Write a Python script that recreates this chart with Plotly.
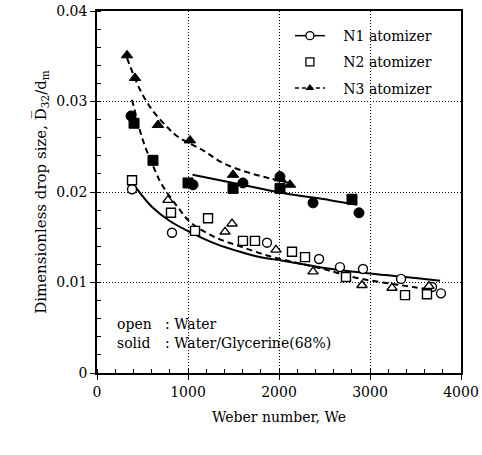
import plotly.graph_objects as go

# ---- data ----
n1_water_we = [385, 824, 1868, 2440, 2670, 2923, 3341, 3681, 3780]
n1_water_d = [0.0203, 0.0155, 0.0144, 0.0126, 0.0117, 0.0115, 0.0104, 0.0095, 0.0088]

n2_water_we = [385, 813, 1077, 1220, 1604, 1736, 2143, 2286, 2736, 3385, 3626]
n2_water_d = [0.0213, 0.0177, 0.0157, 0.0171, 0.0146, 0.0146, 0.0134, 0.0128, 0.0106, 0.0086, 0.0087]

n3_water_we = [780, 1407, 1484, 1967, 2374, 2912, 3242, 3648]
n3_water_d = [0.0191, 0.0156, 0.0165, 0.0136, 0.0112, 0.0097, 0.0094, 0.0096]

n1_gly_we = [374, 1055, 1604, 2011, 2374, 2879]
n1_gly_d = [0.0284, 0.0208, 0.0210, 0.0217, 0.0188, 0.0177]

n2_gly_we = [407, 615, 1000, 1495, 2011, 2802]
n2_gly_d = [0.0276, 0.0235, 0.0210, 0.0204, 0.0204, 0.0192]

n3_gly_we = [330, 418, 670, 1022, 1495, 2011, 2121]
n3_gly_d = [0.0351, 0.0326, 0.0274, 0.0257, 0.0219, 0.0215, 0.0208]

# fitted curves
n1_water_fit_we = [420, 600, 800, 1077, 1300, 1571, 1800, 2044, 2500, 3000, 3500, 3770]
n1_water_fit_d = [0.0206, 0.0184, 0.0168, 0.0153, 0.0143, 0.0134, 0.0128, 0.0124, 0.0116, 0.0110, 0.0105, 0.0102]

n1_gly_fit_we = [1050, 1500, 2040, 2560, 2860]
n1_gly_fit_d = [0.0219, 0.0210, 0.0199, 0.0191, 0.0186]

n3_water_fit_we = [385, 505, 637, 714, 890, 1022, 1297, 1571, 1901, 2484, 2857, 3473, 3604]
n3_water_fit_d = [0.0302, 0.0257, 0.0224, 0.0208, 0.0183, 0.0167, 0.0150, 0.0140, 0.0129, 0.0115, 0.0105, 0.0095, 0.0093]

n3_gly_fit_we = [330, 473, 604, 769, 890, 1165, 1385, 1648, 1901, 2121]
n3_gly_fit_d = [0.0348, 0.0313, 0.0291, 0.0272, 0.0261, 0.0246, 0.0232, 0.0222, 0.0215, 0.0210]

legend_names = ["N1 atomizer", "N2 atomizer", "N3 atomizer"]

FONT = "DejaVu Serif"
BLACK = "black"
NB = "\u00a0\u00a0\u00a0"

fig = go.Figure()

# curves
fig.add_trace(go.Scatter(x=n1_water_fit_we, y=n1_water_fit_d, mode="lines", line=dict(color=BLACK, width=2, shape="spline", smoothing=1.0), showlegend=False))
fig.add_trace(go.Scatter(x=n1_gly_fit_we, y=n1_gly_fit_d, mode="lines", line=dict(color=BLACK, width=2, shape="spline"), showlegend=False))
fig.add_trace(go.Scatter(x=n3_water_fit_we, y=n3_water_fit_d, mode="lines", line=dict(color=BLACK, width=2, dash="6px,4px", shape="spline"), showlegend=False))
fig.add_trace(go.Scatter(x=n3_gly_fit_we, y=n3_gly_fit_d, mode="lines", line=dict(color=BLACK, width=2, dash="6px,4px", shape="spline"), showlegend=False))

open_m = dict(color="white", size=9, line=dict(color=BLACK, width=1.4))
solid_m = dict(color=BLACK, size=10, line=dict(color=BLACK, width=1))

fig.add_trace(go.Scatter(x=n1_water_we, y=n1_water_d, mode="markers", marker=dict(symbol="circle", **open_m), showlegend=False))
fig.add_trace(go.Scatter(x=n2_water_we, y=n2_water_d, mode="markers", marker=dict(symbol="square", **open_m), showlegend=False))
fig.add_trace(go.Scatter(x=n3_water_we, y=n3_water_d, mode="markers", marker=dict(symbol="triangle-up", **open_m), showlegend=False))
fig.add_trace(go.Scatter(x=n1_gly_we, y=n1_gly_d, mode="markers", marker=dict(symbol="circle", **solid_m), showlegend=False))
fig.add_trace(go.Scatter(x=n2_gly_we, y=n2_gly_d, mode="markers", marker=dict(symbol="square", **solid_m), showlegend=False))
fig.add_trace(go.Scatter(x=n3_gly_we, y=n3_gly_d, mode="markers", marker=dict(symbol="triangle-up", **solid_m), showlegend=False))

# legend entries
fig.add_trace(go.Scatter(x=[None], y=[None], mode="lines+markers", name=NB + legend_names[0], legendgroup="a",
                         line=dict(color=BLACK, width=1.5), marker=dict(symbol="circle", color="white", size=8, line=dict(color=BLACK, width=1.3))))
fig.add_trace(go.Scatter(x=[None], y=[None], mode="markers", name=NB + legend_names[1], legendgroup="b",
                         marker=dict(symbol="square", color="white", size=8, line=dict(color=BLACK, width=1.3))))
fig.add_trace(go.Scatter(x=[None], y=[None], mode="lines+markers", name=NB + legend_names[2], legendgroup="c",
                         line=dict(color=BLACK, width=1.5, dash="4px,3px"), marker=dict(symbol="triangle-up", color=BLACK, size=8)))

# white area behind legend (hides grid there)
fig.add_shape(type="rect", xref="paper", yref="paper", x0=0.51, x1=0.99, y0=0.725, y1=0.995,
              fillcolor="white", line=dict(width=0), layer="between")

ann_font = dict(family=FONT, size=14, color=BLACK)
fig.add_annotation(x=0.049, y=0.135, xref="paper", yref="paper", text="open", showarrow=False,
                   xanchor="left", yanchor="middle", font=ann_font)
fig.add_annotation(x=0.049, y=0.083, xref="paper", yref="paper", text="solid", showarrow=False,
                   xanchor="left", yanchor="middle", font=ann_font)
fig.add_annotation(x=0.18, y=0.135, xref="paper", yref="paper", text=": Water", showarrow=False,
                   xanchor="left", yanchor="middle", font=ann_font)
fig.add_annotation(x=0.18, y=0.083, xref="paper", yref="paper", text=": Water/Glycerine(68%)", showarrow=False,
                   xanchor="left", yanchor="middle", font=ann_font)

axis_common = dict(
    showline=True, linecolor=BLACK, linewidth=1.5, mirror=True,
    ticks="outside", ticklen=5, tickwidth=1.2, tickcolor=BLACK,
    showgrid=True, gridcolor=BLACK, gridwidth=1, griddash="1px,2px",
    zeroline=False,
    tickfont=dict(family=FONT, size=14, color=BLACK),
)

fig.update_xaxes(range=[0, 4000], dtick=1000, tick0=0, tickformat="d",
                 minor=dict(ticks="inside", ticklen=4, dtick=200, tickcolor=BLACK, showgrid=False),
                 title=dict(text="Weber number, We", font=dict(family=FONT, size=14, color=BLACK), standoff=14),
                 **axis_common)
fig.update_yaxes(range=[0, 0.04], dtick=0.01, tick0=0,
                 minor=dict(ticks="inside", ticklen=4, dtick=0.002, tickcolor=BLACK, showgrid=False),
                 title=dict(text="Dimensionless drop size, D\u0305<sub>32</sub>/d<sub>m</sub>",
                            font=dict(family=FONT, size=15, color=BLACK), standoff=6),
                 **axis_common)

fig.update_layout(
    width=482, height=455,
    margin=dict(l=97, r=21, t=11, b=82, autoexpand=False),
    paper_bgcolor="white", plot_bgcolor="white",
    legend=dict(x=0.53, y=0.975, xanchor="left", yanchor="top", bgcolor="rgba(0,0,0,0)",
                font=dict(family=FONT, size=14, color=BLACK), traceorder="grouped", tracegroupgap=5,
                itemwidth=30),
    font=dict(family=FONT, color=BLACK),
)

fig.write_html("out.html")
